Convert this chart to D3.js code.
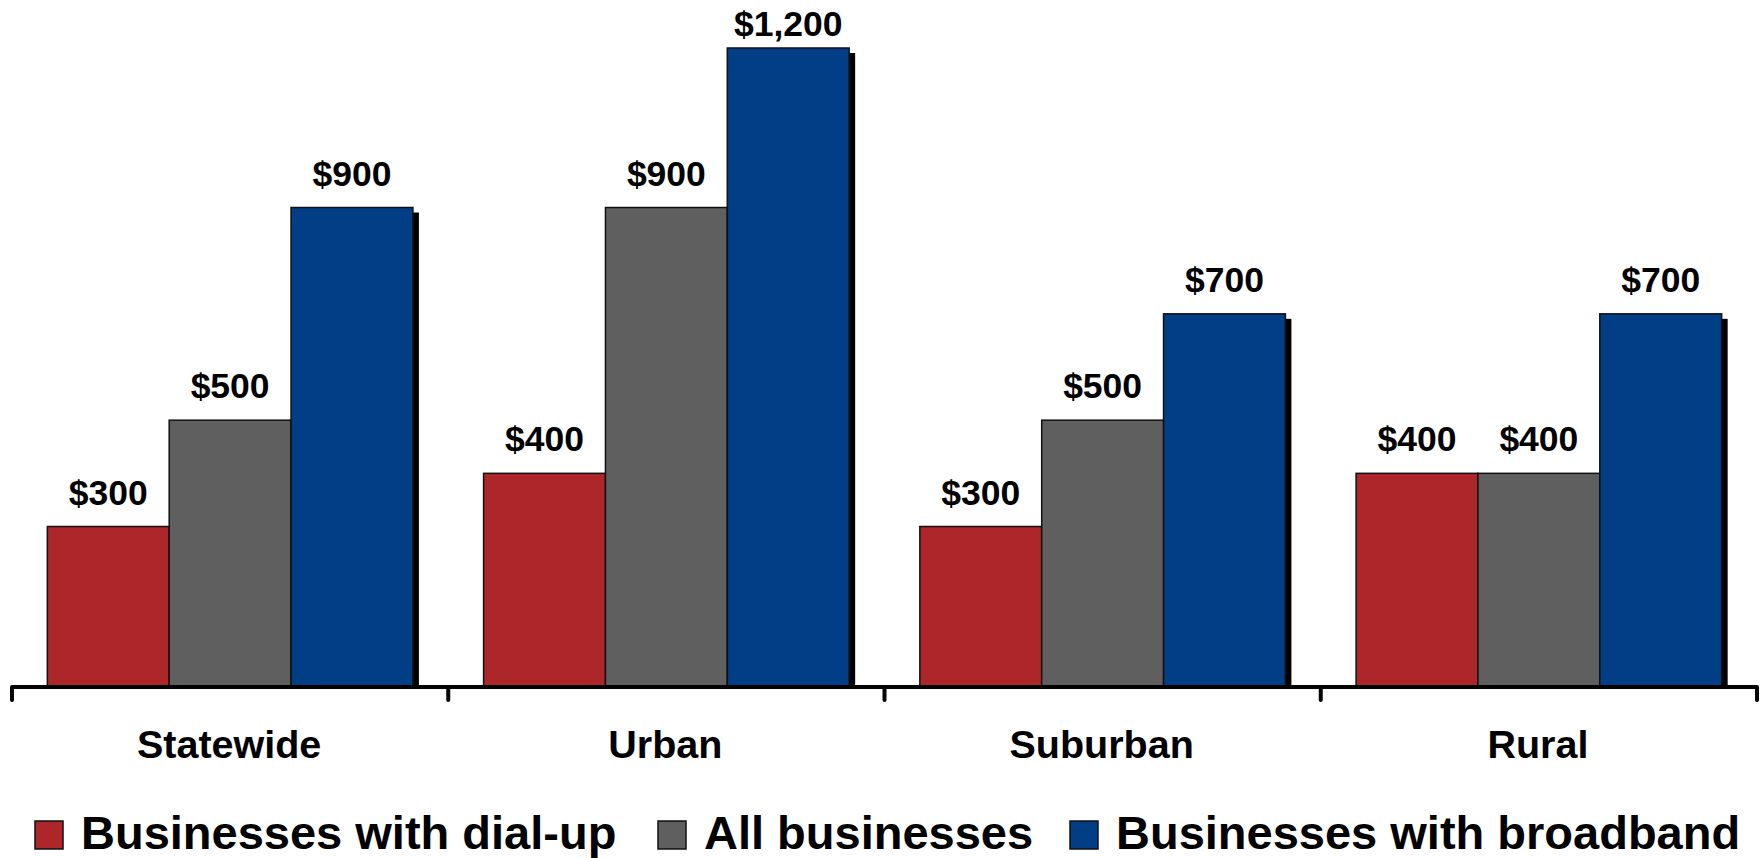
<!DOCTYPE html>
<html>
<head>
<meta charset="utf-8">
<script src="https://cdn.jsdelivr.net/npm/d3@7"></script>
<style>
  html, body { margin: 0; padding: 0; background: #fff; }
  svg { display: block; }
  text { font-family: "Liberation Sans", Arial, sans-serif; font-weight: bold; fill: #000; }
</style>
</head>
<body>
<svg id="chart" width="1760" height="858"></svg>
<script>
const categories = ["Statewide", "Urban", "Suburban", "Rural"];
const seriesNames = ["Businesses with dial-up", "All businesses", "Businesses with broadband"];
const dialUp = [300, 400, 300, 400];
const allBusinesses = [500, 900, 500, 400];
const broadband = [900, 1200, 700, 700];
const seriesColors = ["#AD2629", "#5F5F5F", "#013E86"];

const seriesValues = [dialUp, allBusinesses, broadband];
const svg = d3.select("#chart");

const baseY = 686;
const x0 = d3.scaleBand().domain(categories).range([12, 1757]).paddingInner(0).paddingOuter(0);
const x1 = d3.scaleBand().domain(seriesNames).range([0, x0.bandwidth()]).paddingInner(0).paddingOuter(0.29);
const y = d3.scaleLinear().domain([0, 1200]).range([baseY, 48]);

const fmt = d => "$" + d3.format(",")(d);

const data = [];
categories.forEach((c, ci) => {
  seriesNames.forEach((s, si) => {
    data.push({cat: c, series: s, si, value: seriesValues[si][ci]});
  });
});

const gBars = svg.append("g");
data.forEach(d => {
  const g = gBars.append("g");
  const bx = x0(d.cat) + x1(d.series);
  // shadow
  g.append("rect")
    .attr("x", bx + 6).attr("y", y(d.value) + 5)
    .attr("width", x1.bandwidth()).attr("height", baseY - y(d.value) - 5)
    .attr("fill", "#000");
  g.append("rect")
    .attr("x", bx).attr("y", y(d.value))
    .attr("width", x1.bandwidth()).attr("height", baseY - y(d.value))
    .attr("fill", seriesColors[d.si])
    .attr("stroke", "#111").attr("stroke-width", 1.5);
});

// value labels
svg.append("g").selectAll("text").data(data).join("text")
  .attr("x", d => x0(d.cat) + x1(d.series) + x1.bandwidth() / 2)
  .attr("y", d => Math.max(y(d.value) - 22, 36))
  .attr("text-anchor", "middle")
  .style("font-size", "35.5px")
  .text(d => fmt(d.value));

// axis
const axisG = svg.append("g").attr("transform", `translate(0,${baseY + 1})`);
const axis = d3.axisBottom(x0).tickSize(0).tickSizeOuter(0).tickFormat("");
axisG.call(axis);
axisG.select(".domain").remove();
axisG.selectAll(".tick").remove();
axisG.append("line")
  .attr("x1", x0.range()[0]).attr("x2", x0.range()[1])
  .attr("stroke", "#000").attr("stroke-width", 4).attr("stroke-linecap", "butt");
const boundaries = categories.map(c => x0(c)).concat([x0.range()[1]]);
axisG.selectAll("line.tk").data(boundaries).join("line").attr("class", "tk")
  .attr("x1", d => d).attr("x2", d => d)
  .attr("y1", 0).attr("y2", 13)
  .attr("stroke", "#000").attr("stroke-width", 4).attr("stroke-linecap", "round");

// category labels
svg.append("g").selectAll("text").data(categories).join("text")
  .attr("x", d => x0(d) + x0.bandwidth() / 2 - 1)
  .attr("y", 758)
  .attr("text-anchor", "middle")
  .style("font-size", "39.5px")
  .text(d => d);

// legend
const legendX = [35, 658, 1070];
const legend = svg.append("g");
seriesNames.forEach((s, i) => {
  legend.append("rect")
    .attr("x", legendX[i]).attr("y", 821).attr("width", 28).attr("height", 28)
    .attr("fill", seriesColors[i]).attr("stroke", "#111").attr("stroke-width", 1.5);
  legend.append("text")
    .attr("x", legendX[i] + 46).attr("y", 849)
    .style("font-size", "47px")
    .text(s);
});
</script>
</body>
</html>
